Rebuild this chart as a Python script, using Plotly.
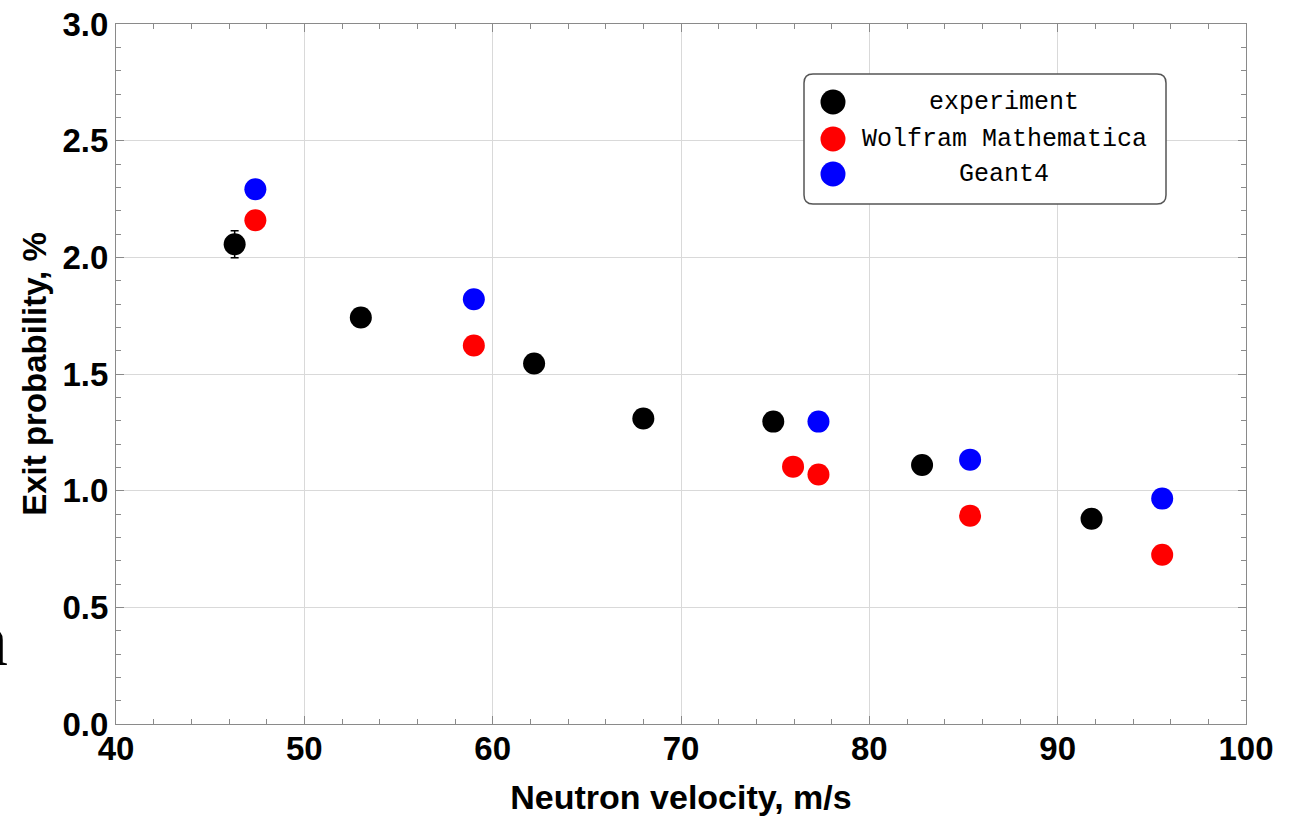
import plotly.graph_objects as go

# ---- data ----
exp_v = [46.3, 53.0, 62.2, 68.0, 74.9, 82.8, 91.8]
exp_p = [2.056, 1.742, 1.545, 1.309, 1.296, 1.110, 0.880]
exp_err = [0.058, 0, 0, 0, 0, 0, 0]

wm_v = [47.4, 59.0, 75.95, 77.3, 85.35, 95.55]
wm_p = [2.159, 1.622, 1.103, 1.069, 0.893, 0.725]

g4_v = [47.4, 59.0, 77.3, 85.35, 95.55]
g4_p = [2.292, 1.820, 1.296, 1.133, 0.966]

series_names = ["experiment", "Wolfram Mathematica", "Geant4"]
series_colors = ["#000000", "#ff0000", "#0000ff"]

x_ticks = [40, 50, 60, 70, 80, 90, 100]
y_ticks = [0.0, 0.5, 1.0, 1.5, 2.0, 2.5, 3.0]
y_tick_text = ["0.0", "0.5", "1.0", "1.5", "2.0", "2.5", "3.0"]

# ---- layout geometry (pixels) ----
W, H = 1299, 816
ML, MR, MT, MB = 116, 53, 24, 92
PW, PH = W - ML - MR, H - MT - MB


def px_x(px):
    return (px - ML) / PW


def px_y(py):
    return (H - MB - py) / PH


fig = go.Figure()
MS = 22
fig.add_trace(go.Scatter(
    x=exp_v, y=exp_p, mode="markers", name=series_names[0],
    marker=dict(size=MS, color=series_colors[0]),
    error_y=dict(type="data", array=exp_err, color="#000000", thickness=1.5, width=4),
    showlegend=False))
fig.add_trace(go.Scatter(
    x=wm_v, y=wm_p, mode="markers", name=series_names[1],
    marker=dict(size=MS, color=series_colors[1]), showlegend=False))
fig.add_trace(go.Scatter(
    x=g4_v, y=g4_p, mode="markers", name=series_names[2],
    marker=dict(size=MS, color=series_colors[2]), showlegend=False))

tickfont = dict(family="Liberation Sans, Arial, sans-serif", size=33, color="#000000", weight="bold")
axis_common = dict(
    showline=True, linecolor="#8a8a8a", linewidth=1.2, mirror="allticks",
    ticks="inside", ticklen=8, tickwidth=1, tickcolor="#8a8a8a",
    showgrid=True, gridcolor="#d9d9d9", gridwidth=1, zeroline=False,
    tickfont=tickfont,
)
fig.update_xaxes(
    range=[40, 100], tickvals=x_ticks, ticktext=[str(v) for v in x_ticks],
    ticklabelstandoff=-5,
    minor=dict(dtick=2, ticks="inside", ticklen=5, tickcolor="#8a8a8a", showgrid=False),
    title=dict(text="Neutron velocity, m/s", standoff=22,
               font=dict(family="Liberation Sans, Arial, sans-serif", size=34, color="#000000", weight="bold")),
    **axis_common)
fig.update_yaxes(
    range=[0, 3], tickvals=y_ticks, ticktext=y_tick_text,
    minor=dict(dtick=0.1, ticks="inside", ticklen=5, tickcolor="#8a8a8a", showgrid=False),
    title=dict(text="Exit probability, %", standoff=5,
               font=dict(family="Liberation Sans, Arial, sans-serif", size=33, color="#000000", weight="bold")),
    **axis_common)

# ---- legend box (rounded) ----
bx0, bx1, by0, by1 = 804, 1166, 74, 204
r = 9
X0, X1 = px_x(bx0), px_x(bx1)
Yt, Yb = px_y(by0), px_y(by1)
rx, ry = r / PW, r / PH
path = (f"M {X0+rx} {Yt} L {X1-rx} {Yt} Q {X1} {Yt} {X1} {Yt-ry} "
        f"L {X1} {Yb+ry} Q {X1} {Yb} {X1-rx} {Yb} "
        f"L {X0+rx} {Yb} Q {X0} {Yb} {X0} {Yb+ry} "
        f"L {X0} {Yt-ry} Q {X0} {Yt} {X0+rx} {Yt} Z")
shapes = [dict(type="path", path=path, xref="paper", yref="paper",
               line=dict(color="#555555", width=1.5), fillcolor="#ffffff", layer="above")]
annotations = []
row_y = [102, 139, 174]
for name, col, ry_px in zip(series_names, series_colors, row_y):
    shapes.append(dict(type="circle", xref="paper", yref="paper",
                       xsizemode="pixel", ysizemode="pixel",
                       xanchor=px_x(833), yanchor=px_y(ry_px),
                       x0=-12.5, x1=12.5, y0=-12.5, y1=12.5,
                       fillcolor=col, line=dict(width=0), layer="above"))
    annotations.append(dict(text=name, xref="paper", yref="paper",
                            x=px_x(1004), y=px_y(ry_px), xanchor="center", yanchor="middle",
                            showarrow=False,
                            font=dict(family="Liberation Mono, DejaVu Sans Mono, monospace", size=25, color="#000000")))

# stray cropped glyph at left edge of the original figure
annotations.append(dict(text="n", xref="paper", yref="paper", x=px_x(-11), y=px_y(640),
                        xanchor="center", yanchor="middle", showarrow=False,
                        font=dict(family="Liberation Serif, Times New Roman, serif", size=74, color="#000000")))

fig.update_layout(
    width=W, height=H,
    margin=dict(l=ML, r=MR, t=MT, b=MB, autoexpand=False),
    paper_bgcolor="#ffffff", plot_bgcolor="#ffffff",
    shapes=shapes, annotations=annotations,
    showlegend=False,
)

fig.write_html("out.html", config={"displayModeBar": False},
               post_script="document.body.style.margin='0';document.body.style.overflow='hidden';")
